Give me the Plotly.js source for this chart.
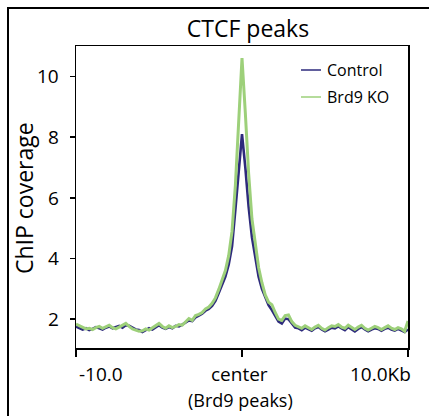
<!DOCTYPE html>
<html>
<head>
<meta charset="utf-8">
<script src="https://cdn.plot.ly/plotly-3.0.1.min.js"></script>
<style>
html,body{margin:0;padding:0;background:#fff;overflow:hidden;}
#frame{position:absolute;left:7px;top:7px;width:440px;height:430px;border-left:2px solid #000;border-top:2px solid #000;}
#plot{position:absolute;left:0;top:0;width:429px;height:416px;}
</style>
</head>
<body>
<div id="frame"></div>
<div id="plot"></div>
<script>
const positionKb = [-10,-9.8,-9.6,-9.4,-9.2,-9,-8.8,-8.6,-8.4,-8.2,-8,-7.8,-7.6,-7.4,-7.2,-7,-6.8,-6.6,-6.4,-6.2,-6,-5.8,-5.6,-5.4,-5.2,-5,-4.8,-4.6,-4.4,-4.2,-4,-3.8,-3.6,-3.4,-3.2,-3,-2.8,-2.6,-2.4,-2.2,-2,-1.8,-1.6,-1.4,-1.2,-1,-0.8,-0.6,-0.4,-0.2,0,0.2,0.4,0.6,0.8,1,1.2,1.4,1.6,1.8,2,2.2,2.4,2.6,2.8,3,3.2,3.4,3.6,3.8,4,4.2,4.4,4.6,4.8,5,5.2,5.4,5.6,5.8,6,6.2,6.4,6.6,6.8,7,7.2,7.4,7.6,7.8,8,8.2,8.4,8.6,8.8,9,9.2,9.4,9.6,9.8,10];

const controlCoverage = [1.76,1.72,1.66,1.70,1.64,1.68,1.74,1.70,1.66,1.72,1.76,1.70,1.74,1.78,1.72,1.80,1.78,1.72,1.66,1.64,1.58,1.64,1.70,1.66,1.74,1.80,1.72,1.68,1.74,1.70,1.78,1.76,1.82,1.88,1.96,1.94,2.06,2.12,2.18,2.28,2.34,2.44,2.60,2.86,3.12,3.40,3.80,4.40,5.60,6.90,8.10,7.00,5.70,4.70,4.00,3.40,3.00,2.70,2.46,2.30,2.10,1.92,1.86,2.02,2.00,1.84,1.72,1.70,1.64,1.72,1.68,1.62,1.70,1.74,1.66,1.60,1.66,1.72,1.70,1.76,1.70,1.64,1.74,1.68,1.60,1.68,1.74,1.66,1.60,1.66,1.70,1.68,1.62,1.68,1.72,1.66,1.62,1.68,1.64,1.58,1.66];

const brd9KoCoverage = [1.84,1.78,1.72,1.68,1.70,1.66,1.72,1.76,1.70,1.74,1.80,1.72,1.68,1.74,1.80,1.86,1.76,1.68,1.64,1.60,1.62,1.68,1.64,1.72,1.80,1.86,1.76,1.70,1.78,1.72,1.76,1.82,1.80,1.92,2.02,1.96,2.12,2.16,2.22,2.34,2.40,2.52,2.70,2.98,3.30,3.60,4.10,4.90,6.40,8.60,10.60,8.80,6.80,5.30,4.50,3.70,3.20,2.80,2.56,2.48,2.22,2.00,1.96,2.12,2.14,1.92,1.80,1.74,1.70,1.78,1.72,1.66,1.74,1.80,1.70,1.64,1.72,1.78,1.76,1.82,1.74,1.70,1.80,1.72,1.66,1.74,1.80,1.70,1.64,1.70,1.76,1.72,1.66,1.72,1.78,1.70,1.66,1.72,1.68,1.60,1.94];

const seriesNames = ["Control", "Brd9 KO"];
const seriesColors = ["#2d2a7c", "#9dd07a"];
const yTickVals = [2,4,6,8,10];
const yTickText = ["2","4","6","8","10"];
const xTickVals = [-10, 0, 10];
const xTickText = ["-10.0", "center", "10.0Kb"];

const FONT = "Open Sans, Noto Sans, sans-serif";

const traces = [
  {x: positionKb, y: controlCoverage, type: "scatter", mode: "lines", name: seriesNames[0],
   line: {color: seriesColors[0], width: 2.6}, showlegend: false},
  {x: positionKb, y: brd9KoCoverage, type: "scatter", mode: "lines", name: seriesNames[1],
   line: {color: seriesColors[1], width: 3}, showlegend: false}
];

const legendShapes = [0,1].map(i => ({
  type: "line", xref: "paper", yref: "paper",
  x0: (301-76)/332, x1: (321-76)/332,
  y0: (348-(70+i*27))/302, y1: (348-(70+i*27))/302,
  line: {color: seriesColors[i], width: 1.5}
}));
const legendTexts = [0,1].map(i => ({
  xref: "paper", yref: "paper",
  x: (325-76)/332, y: (348-(70+i*27))/302,
  xanchor: "left", yanchor: "middle", showarrow: false,
  text: seriesNames[i], font: {family: FONT, size: 16, color: "#000"}
}));

const xLabelAnn = [
  {xref: "x", yref: "paper", x: xTickVals[0], y: -(374-348)/302, xanchor: "left", xshift: 1, yanchor: "middle", showarrow: false, text: xTickText[0], font: {family: FONT, size: 19, color: "#000"}},
  {xref: "x", yref: "paper", x: xTickVals[1], y: -(374-348)/302, xanchor: "center", xshift: -3, yanchor: "middle", showarrow: false, text: xTickText[1], font: {family: FONT, size: 19, color: "#000"}},
  {xref: "x", yref: "paper", x: xTickVals[2], y: -(374-348)/302, xanchor: "right", xshift: 5, yanchor: "middle", showarrow: false, text: xTickText[2], font: {family: FONT, size: 19, color: "#000"}},
  {xref: "paper", yref: "paper", x: (240-76)/332, y: -(400-348)/302, xanchor: "center", yanchor: "middle", showarrow: false, text: "(Brd9 peaks)", font: {family: FONT, size: 18, color: "#000"}}
];

const yLabelAnn = yTickVals.map((v, i) => ({
  xref: "paper", yref: "y", x: 0, y: v, xanchor: "right", xshift: -15, yanchor: "middle",
  showarrow: false, text: yTickText[i], font: {family: FONT, size: 19, color: "#000"}
}));

const yTitleAnn = [{
  xref: "paper", yref: "paper", x: (24-76)/332, y: (348-198)/302, xanchor: "center", yanchor: "middle",
  textangle: -90, showarrow: false, text: "ChIP coverage", font: {family: FONT, size: 23, color: "#000"}
}];

const layout = {
  width: 429, height: 416,
  margin: {l: 76, r: 21, t: 46, b: 68, pad: 0},
  paper_bgcolor: "rgba(0,0,0,0)", plot_bgcolor: "rgba(0,0,0,0)",
  title: {text: "CTCF peaks", font: {family: FONT, size: 23, color: "#000"},
          xref: "paper", x: (248-76)/332, xanchor: "center",
          yref: "container", y: 1 - 29/416, yanchor: "middle"},
  xaxis: {range: [-10, 10], tickvals: xTickVals, ticktext: xTickText, showticklabels: false,
          ticks: "outside", ticklen: 7, tickwidth: 1.5, tickcolor: "#000",
          showline: true, linecolor: "#000", linewidth: 1.5, mirror: true,
          showgrid: false, zeroline: false},
  yaxis: {range: [1.05, 11], tickvals: yTickVals, ticktext: yTickText, showticklabels: false,
          ticks: "outside", ticklen: 5, tickwidth: 1.5, tickcolor: "#000",
          showline: true, linecolor: "#000", linewidth: 1.5, mirror: true,
          showgrid: false, zeroline: false},
  shapes: legendShapes,
  annotations: legendTexts.concat(xLabelAnn, yLabelAnn, yTitleAnn),
  showlegend: false
};

Plotly.newPlot("plot", traces, layout, {displayModeBar: false, staticPlot: true});
</script>
</body>
</html>
